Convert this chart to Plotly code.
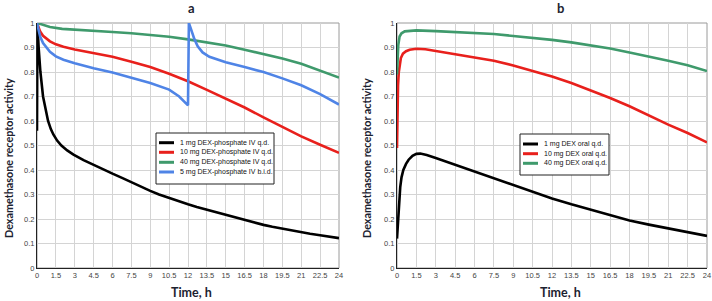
import plotly.graph_objects as go

# ---- Panel a data (IV dosing) ----
t_a_black = [0, 0.03, 0.13, 0.27, 0.48, 0.68, 0.88, 1.1, 1.3, 1.6, 1.94, 2.4, 2.9, 3.7, 4.5, 5.2, 6,
             6.8, 7.5, 8.2, 9, 9.7, 10.5, 11.2, 12, 12.7, 13.5, 14.2, 15, 15.7, 16.5, 17.2, 18, 18.7,
             19.5, 20.2, 21, 21.7, 22.5, 23.2, 24]
v_a_black = [0.56, 1.0, 0.9, 0.8, 0.7, 0.645, 0.6, 0.567, 0.545, 0.52, 0.5, 0.48, 0.463, 0.44, 0.42,
             0.402, 0.385, 0.367, 0.35, 0.333, 0.315, 0.3, 0.285, 0.272, 0.26, 0.249, 0.238, 0.228,
             0.217, 0.206, 0.195, 0.185, 0.176, 0.168, 0.16, 0.153, 0.146, 0.14, 0.134, 0.128, 0.122]

t_a_red = [0, 0.1, 0.25, 0.48, 0.75, 1.03, 1.5, 2.1, 3, 4.5, 6, 7.5, 9, 10.5, 12, 13.5, 15, 16.5,
           18, 19.5, 21, 22.5, 24]
v_a_red = [1.0, 0.985, 0.965, 0.948, 0.935, 0.925, 0.913, 0.903, 0.892, 0.876, 0.862, 0.842, 0.82,
           0.793, 0.762, 0.727, 0.692, 0.655, 0.615, 0.576, 0.537, 0.503, 0.47]

t_a_green = [0, 0.5, 1.03, 2, 3, 4.5, 6, 7.5, 9, 10.5, 12, 13.5, 15, 16.5, 18, 19.5, 21, 22.5, 24]
v_a_green = [1.0, 0.992, 0.984, 0.976, 0.972, 0.967, 0.963, 0.958, 0.952, 0.944, 0.933, 0.921,
             0.908, 0.891, 0.874, 0.855, 0.834, 0.807, 0.777]

t_a_blue = [0, 0.1, 0.25, 0.48, 0.75, 1.03, 1.5, 2.1, 3, 4.5, 6, 7.5, 9, 10.5, 11.3, 12, 12.07,
            12.24, 12.5, 12.77, 13.16, 13.7, 14.36, 15, 16.5, 18, 19.5, 21, 22.5, 24]
v_a_blue = [1.0, 0.975, 0.945, 0.918, 0.898, 0.882, 0.864, 0.85, 0.836, 0.815, 0.798, 0.778, 0.755,
            0.728, 0.7, 0.664, 1.0, 0.975, 0.935, 0.905, 0.88, 0.862, 0.85, 0.84, 0.82, 0.80, 0.774,
            0.746, 0.71, 0.667]

# ---- Panel b data (oral dosing) ----
t_b_black = [0, 0.05, 0.1, 0.17, 0.25, 0.35, 0.49, 0.7, 0.9, 1.2, 1.5, 1.8, 2.3, 3, 4.5, 6, 7.5, 9,
             10.5, 12, 13.5, 15, 16.5, 18, 19.5, 21, 22.5, 24]
v_b_black = [0.12, 0.17, 0.22, 0.28, 0.33, 0.37, 0.40, 0.425, 0.442, 0.458, 0.466, 0.467, 0.461,
             0.449, 0.421, 0.394, 0.366, 0.339, 0.311, 0.284, 0.26, 0.237, 0.214, 0.194, 0.177,
             0.162, 0.147, 0.131]

t_b_red = [0, 0.04, 0.08, 0.14, 0.2, 0.3, 0.46, 0.7, 0.98, 1.5, 2.2, 3, 4.5, 6, 7.5, 9, 10.5, 12,
           13.5, 15, 16.5, 18, 19.5, 21, 22.5, 24]
v_b_red = [0.49, 0.65, 0.745, 0.8, 0.83, 0.857, 0.875, 0.885, 0.891, 0.895, 0.893, 0.886, 0.873,
           0.861, 0.846, 0.827, 0.805, 0.782, 0.755, 0.725, 0.694, 0.66, 0.622, 0.585, 0.551, 0.513]

t_b_green = [0, 0.05, 0.1, 0.2, 0.35, 0.6, 1, 1.5, 3, 4.5, 6, 7.5, 9, 10.5, 12, 13.5, 15, 16.5, 18,
             19.5, 21, 22.5, 24]
v_b_green = [0.79, 0.87, 0.91, 0.945, 0.958, 0.966, 0.969, 0.97, 0.967, 0.964, 0.96, 0.955, 0.947,
             0.94, 0.931, 0.921, 0.91, 0.896, 0.88, 0.864, 0.846, 0.828, 0.804]

names_a = ["1 mg DEX-phosphate IV q.d.", "10 mg DEX-phosphate IV q.d.",
           "40 mg DEX-phosphate IV q.d.", "5 mg DEX-phosphate IV b.i.d."]
names_b = ["1 mg DEX oral q.d.", "10 mg DEX oral q.d.", "40 mg DEX oral q.d."]

x_ticks = [0, 1.5, 3, 4.5, 6, 7.5, 9, 10.5, 12, 13.5, 15, 16.5, 18, 19.5, 21, 22.5, 24]
x_tick_labels = ["0", "1.5", "3", "4.5", "6", "7.5", "9", "10.5", "12", "13.5", "15", "16.5", "18",
                 "19.5", "21", "22.5", "24"]
y_ticks = [0, 0.1, 0.2, 0.3, 0.4, 0.5, 0.6, 0.7, 0.8, 0.9, 1]
y_tick_labels = ["0", "0.1", "0.2", "0.3", "0.4", "0.5", "0.6", "0.7", "0.8", "0.9", "1"]

BLACK = "#000000"
RED = "#e8201c"
GREEN = "#3f9a6c"
BLUE = "#4f84e6"
COLORS_A = [BLACK, RED, GREEN, BLUE]
COLORS_B = [BLACK, RED, GREEN]
LW = 2.6

fig = go.Figure()
for (t, v), c, n in zip([(t_a_black, v_a_black), (t_a_red, v_a_red), (t_a_green, v_a_green),
                         (t_a_blue, v_a_blue)], COLORS_A, names_a):
    fig.add_trace(go.Scatter(x=t, y=v, mode="lines", name=n, line=dict(color=c, width=LW),
                             xaxis="x", yaxis="y"))
for (t, v), c, n in zip([(t_b_black, v_b_black), (t_b_red, v_b_red), (t_b_green, v_b_green)],
                        COLORS_B, names_b):
    fig.add_trace(go.Scatter(x=t, y=v, mode="lines", name=n, line=dict(color=c, width=LW),
                             xaxis="x2", yaxis="y2"))

W, H = 712, 301
ydom = [1 - 268 / H, 1 - 23 / H]
tickfont = dict(family="Liberation Sans Narrow, Arial Narrow, Liberation Sans, Arial", size=7.5, color="#444444")
titlefont = dict(family="Lato, Open Sans, sans-serif", size=12, color="#1c2230")


def xax(dom, anchor):
    return dict(domain=dom, range=[0, 24], tickmode="array", tickvals=x_ticks, ticktext=x_tick_labels,
                showgrid=True, gridcolor="#d4d4d4", gridwidth=1, zeroline=False, showline=True,
                linecolor="#222222", linewidth=1, ticks="", tickfont=tickfont, anchor=anchor,
                fixedrange=True, automargin=False)


def yax(anchor):
    return dict(domain=ydom, range=[0, 1], tickmode="array", tickvals=y_ticks, ticktext=y_tick_labels,
                showgrid=True, gridcolor="#d4d4d4", gridwidth=1, zeroline=False, showline=True,
                linecolor="#222222", linewidth=1, ticks="", tickfont=tickfont, anchor=anchor,
                fixedrange=True, automargin=False)


fig.update_layout(
    width=W, height=H, margin=dict(l=0, r=0, t=0, b=0),
    paper_bgcolor="white", plot_bgcolor="white",
    xaxis=xax([37 / W, 339 / W], "y"), yaxis=yax("x"),
    xaxis2=xax([397 / W, 707 / W], "y2"), yaxis2=yax("x2"),
    showlegend=False,
)

# gray frame for top/right border
for xr, yr in [("x domain", "y domain"), ("x2 domain", "y2 domain")]:
    fig.add_shape(type="rect", xref=xr, yref=yr, x0=0, x1=1, y0=0, y1=1,
                  line=dict(color="#9a9a9a", width=1), layer="below")

# ---- manual legends (pixel boxes) ----
legfont = dict(family="Liberation Sans Narrow, Arial Narrow, Liberation Sans, Arial", size=7, color="#111111")


def px(x):
    return x / W


def py(y):
    return 1 - y / H


def add_legend(box, sample_x, text_x, rows, names, colors):
    x0, y0, x1, y1 = box
    fig.add_shape(type="rect", xref="paper", yref="paper", x0=px(x0), x1=px(x1), y0=py(y1), y1=py(y0),
                  line=dict(color="#222222", width=1), fillcolor="white", layer="above")
    for yy, n, c in zip(rows, names, colors):
        fig.add_shape(type="line", xref="paper", yref="paper", x0=px(sample_x[0]), x1=px(sample_x[1]),
                      y0=py(yy), y1=py(yy), line=dict(color=c, width=3), layer="above")
        fig.add_annotation(xref="paper", yref="paper", x=px(text_x), y=py(yy), text=n, showarrow=False,
                           xanchor="left", yanchor="middle", font=legfont)


add_legend((156, 133, 274, 184), (159, 174), 178, [142.7, 152.3, 162.3, 172], names_a, COLORS_A)
add_legend((520, 134, 609, 175), (523, 538), 542, [144, 153.7, 163.3], names_b, COLORS_B)

annots = [
    dict(text="<b>a</b>", x=191 / W, y=1 - 8 / H, size=13),
    dict(text="<b>b</b>", x=560 / W, y=1 - 8 / H, size=13),
    dict(text="<b>Time, h</b>", x=191 / W, y=1 - 292 / H, size=12.5),
    dict(text="<b>Time, h</b>", x=560 / W, y=1 - 292 / H, size=12.5),
    dict(text="<b>Dexamethasone receptor activity</b>", x=8 / W, y=1 - 158 / H, textangle=-90, size=10.8),
    dict(text="<b>Dexamethasone receptor activity</b>", x=366 / W, y=1 - 158 / H, textangle=-90, size=10.8),
]
for a in annots:
    s = a.pop("size")
    f = dict(titlefont)
    f["size"] = s
    fig.add_annotation(xref="paper", yref="paper", showarrow=False, xanchor="center", yanchor="middle",
                       font=f, **a)

fig.write_html("out.html", config={"displayModeBar": False},
               post_script="document.body.style.margin='0';document.body.style.overflow='hidden';")
